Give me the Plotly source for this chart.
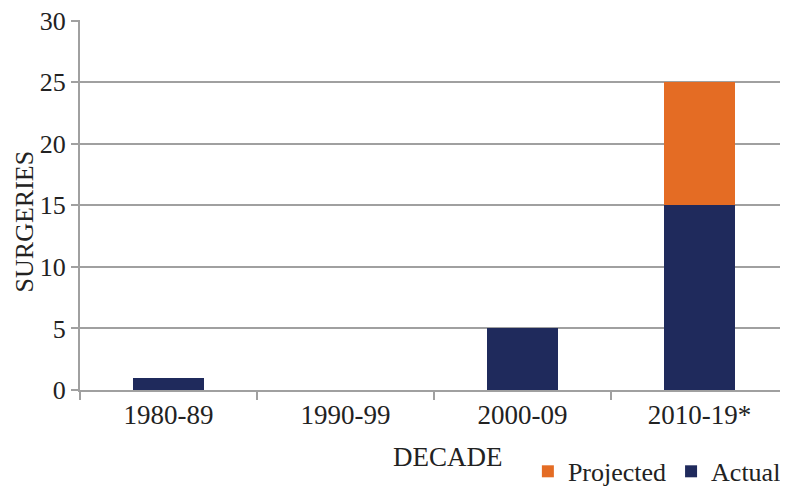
import plotly.graph_objects as go

decades = ["1980-89", "1990-99", "2000-09", "2010-19*"]
actual = [1, 0, 5, 15]
projected = [0, 0, 0, 10]

font = "Liberation Serif, Times New Roman, serif"

fig = go.Figure()
fig.add_trace(go.Bar(x=decades, y=actual, name="Actual", marker_color="#1F2A5C",
                     marker_line_width=0))
fig.add_trace(go.Bar(x=decades, y=projected, name="Projected", marker_color="#E46C24",
                     marker_line_width=0))

fig.update_layout(
    width=780, height=482,
    barmode="stack", bargap=0.6,
    plot_bgcolor="white", paper_bgcolor="white",
    margin=dict(l=72, r=0, t=12, b=100, autoexpand=False),
    font=dict(family=font, size=26, color="#222222"),
    showlegend=True,
    legend=dict(orientation="h", x=0.997, xanchor="right", y=-0.22, yanchor="middle",
                traceorder="reversed", font=dict(size=26), itemwidth=30,
                bgcolor="rgba(0,0,0,0)"),
    xaxis=dict(
        type="category",
        showline=True, linecolor="#A0A0A0", linewidth=2,
        ticks="outside", tickson="boundaries", ticklen=8, tickcolor="#A0A0A0", tickwidth=2,
        tickfont=dict(size=27), automargin=False,
    ),
    yaxis=dict(
        range=[0, 30.05], tickvals=[0, 5, 10, 15, 20, 25, 30],
        showline=True, linecolor="#A0A0A0", linewidth=2,
        showgrid=True, gridcolor="#A0A0A0", gridwidth=2,
        ticks="outside", ticklen=7, tickcolor="#A0A0A0", tickwidth=2,
        tickfont=dict(size=26), zeroline=False, automargin=False,
        ticklabeloverflow="allow",
    ),
    annotations=[
        dict(text="DECADE", xref="paper", yref="paper", x=0.52, y=-0.18,
             xanchor="center", yanchor="middle", showarrow=False,
             font=dict(size=27)),
        dict(text="SURGERIES", xref="paper", yref="paper", x=-0.078, y=0.455,
             xanchor="center", yanchor="middle", textangle=-90, showarrow=False,
             font=dict(size=26)),
    ],
)

fig.write_html("out.html")
